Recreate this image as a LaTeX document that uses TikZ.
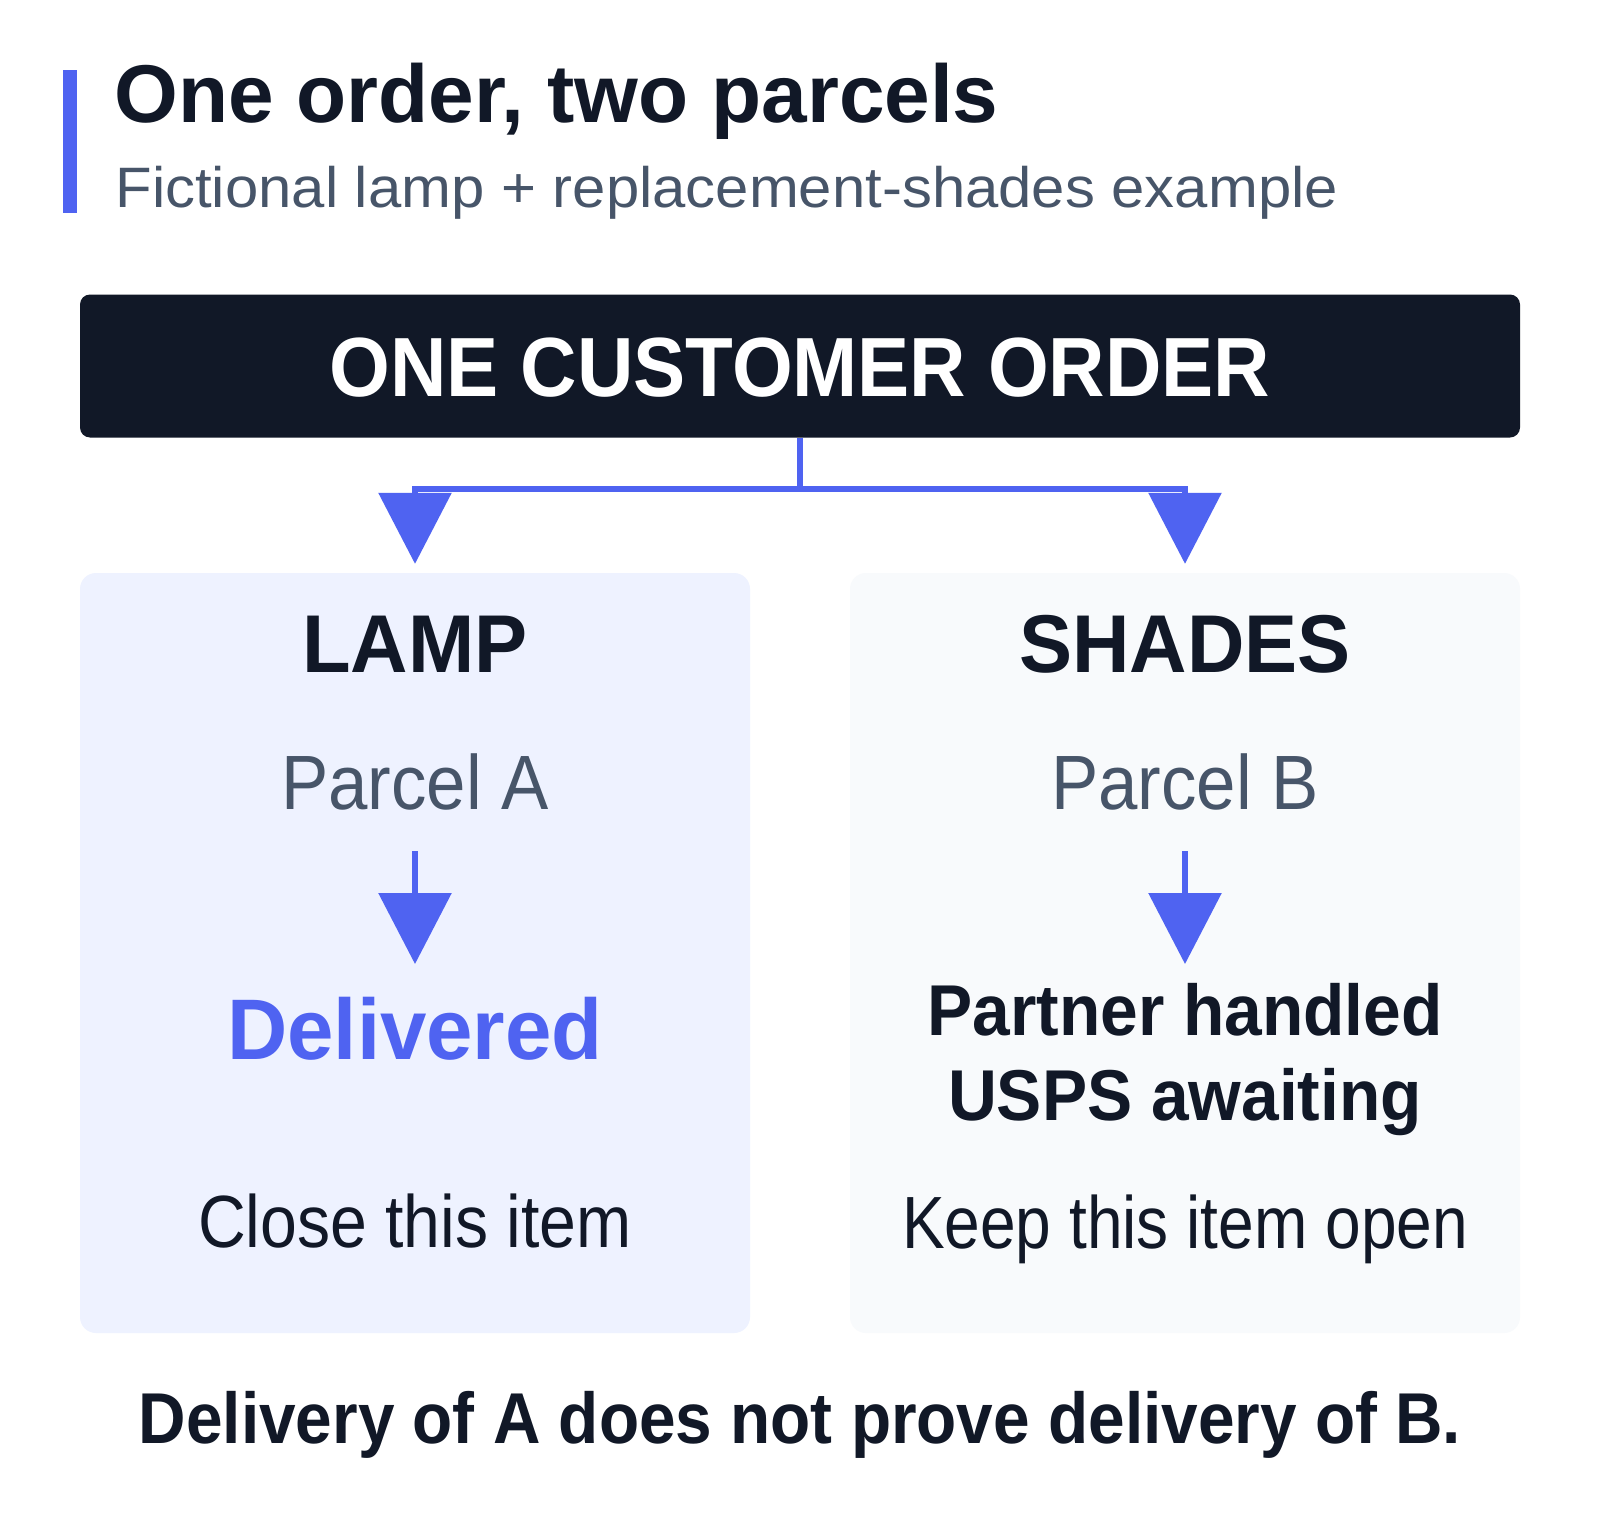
\documentclass[tikz,border=0pt]{standalone}
\usepackage{fontspec}
\setmainfont{Liberation Sans}
\usetikzlibrary{arrows.meta}

\definecolor{ink}{HTML}{111827}
\definecolor{slate}{HTML}{475569}
\definecolor{accent}{HTML}{4F63F1}
\definecolor{lampbg}{HTML}{EEF2FF}
\definecolor{shadebg}{HTML}{F8FAFC}

\tikzset{
  link/.style={draw=accent, line width=6pt},
  headtip/.style={-{Triangle[length=71pt,width=72pt]}},
  panel/.style={rounded corners=16pt, minimum width=670pt, minimum height=760pt, inner sep=0pt},
  heading/.style={anchor=base, text=ink, font=\fontsize{82}{98}\selectfont\bfseries\addfontfeatures{FakeStretch=0.97}},
  parcel/.style={anchor=base, text=slate, font=\fontsize{77}{92}\selectfont\addfontfeatures{FakeStretch=0.92}},
  status/.style={anchor=base, text=ink, font=\fontsize{72}{84}\selectfont\bfseries\addfontfeatures{FakeStretch=0.94}},
  action/.style={anchor=base, text=ink},
}

\begin{document}
\begin{tikzpicture}[x=1pt, y=-1pt]
\useasboundingbox[fill=white] (0,0) rectangle (1600,1530);

% title block
\fill[accent] (63,70) rectangle (77,213);
\node[anchor=base west, text=ink, font=\fontsize{82}{98}\selectfont\bfseries] (title) at (111,123) {One order, two parcels};
\node[anchor=base west, text=slate, font=\fontsize{57}{68}\selectfont\addfontfeatures{FakeStretch=1.05}] (subtitle) at (112,208) {Fictional lamp + replacement-shades example};

% the order
\node[fill=ink, rounded corners=10pt, minimum width=1440pt, minimum height=143pt, text height=60pt, text depth=0pt,
  text=white, font=\fontsize{84}{100}\selectfont\bfseries\addfontfeatures{FakeStretch=0.93}] (order) at (800,366) {ONE CUSTOMER ORDER};

% two parcels
\node[panel, fill=lampbg] (lamp) at (415,953) {};
\node[panel, fill=shadebg] (shades) at (1185,953) {};

\coordinate (fork) at (800,489);
\draw[link] (order.south) -- (fork);
\draw[link, headtip] (fork) -| ([yshift=9pt]lamp.north);
\draw[link, headtip] (fork) -| ([yshift=9pt]shades.north);

% lamp side
\node[heading] (lamptitle) at (415,672) {LAMP};
\node[parcel] (parcela) at (415,809) {Parcel A};
\coordinate (afrom) at (415,851);
\coordinate (ato) at (415,964);
\draw[link, headtip] (afrom) -- (ato);
\node[anchor=base, text=accent, font=\fontsize{86}{100}\selectfont\bfseries\addfontfeatures{FakeStretch=0.97}] (delivered) at (415,1059) {Delivered};
\node[action, font=\fontsize{74}{88}\selectfont\addfontfeatures{FakeStretch=0.894}] (closeit) at (415,1247) {Close this item};

% shades side
\node[heading] (shadestitle) at (1185,672) {SHADES};
\node[parcel] (parcelb) at (1185,809) {Parcel B};
\coordinate (bfrom) at (1185,851);
\coordinate (bto) at (1185,964);
\draw[link, headtip] (bfrom) -- (bto);
\node[status] (partner) at (1185,1035) {Partner handled};
\node[status] (usps) at (1185,1120) {USPS awaiting};
\node[action, font=\fontsize{74}{88}\selectfont\addfontfeatures{FakeStretch=0.865}] (keepit) at (1185,1248) {Keep this item open};

% footnote
\node[anchor=base, text=ink, font=\fontsize{72}{84}\selectfont\bfseries\addfontfeatures{FakeStretch=0.913}] (footer) at (800,1443) {Delivery of A does not prove delivery of B.};
\end{tikzpicture}
\end{document}
